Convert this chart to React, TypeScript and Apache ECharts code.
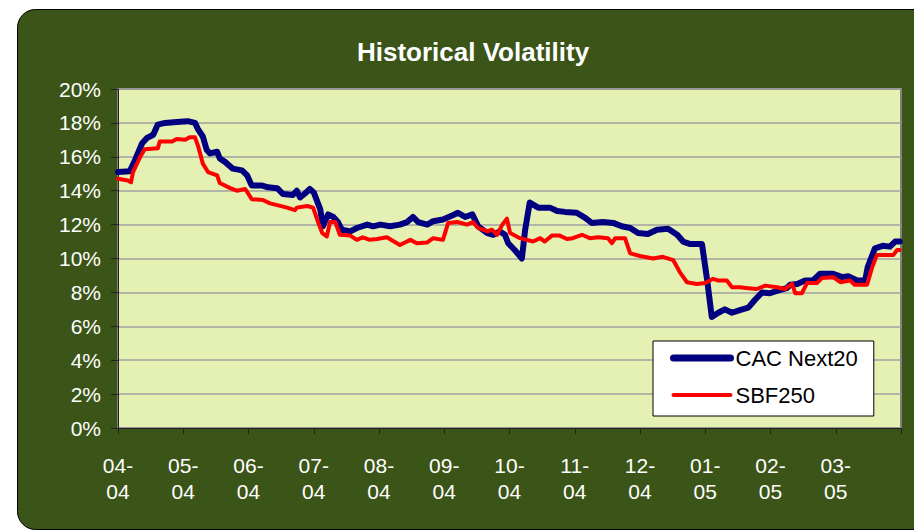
import React, { useEffect, useRef } from "react";
import * as echarts from "echarts";

// Month tick labels (position 0 = April 2004, 12 = April 2005)
const tickLabels = ["04-\n04", "05-\n04", "06-\n04", "07-\n04", "08-\n04", "09-\n04", "10-\n04", "11-\n04", "12-\n04", "01-\n05", "02-\n05", "03-\n05", ""];

// CAC Next20: position in months since April 2004, volatility in %
const cacMonths = [0, 0.18, 0.26, 0.37, 0.44, 0.54, 0.61, 0.72, 0.9, 1.07, 1.18, 1.23, 1.3, 1.36, 1.41, 1.52, 1.56, 1.64, 1.76, 1.9, 1.98, 2.05, 2.21, 2.3, 2.44, 2.53, 2.68, 2.74, 2.79, 2.87, 2.94, 3.0, 3.1, 3.14, 3.22, 3.3, 3.37, 3.43, 3.56, 3.66, 3.82, 3.91, 4.02, 4.17, 4.32, 4.43, 4.52, 4.6, 4.74, 4.83, 4.98, 5.13, 5.21, 5.32, 5.43, 5.52, 5.66, 5.75, 5.85, 5.93, 5.98, 6.08, 6.19, 6.24, 6.31, 6.44, 6.62, 6.73, 6.85, 7.03, 7.16, 7.26, 7.43, 7.59, 7.72, 7.85, 7.97, 8.12, 8.26, 8.43, 8.57, 8.66, 8.77, 8.95, 9.03, 9.1, 9.2, 9.3, 9.41, 9.53, 9.66, 9.76, 9.87, 9.99, 10.11, 10.25, 10.3, 10.41, 10.53, 10.65, 10.76, 10.96, 11.1, 11.19, 11.33, 11.45, 11.49, 11.6, 11.72, 11.83, 11.91, 11.98];
const cacValues = [15.1, 15.15, 15.8, 16.8, 17.1, 17.3, 17.9, 18.0, 18.05, 18.1, 18.0, 17.6, 17.2, 16.4, 16.2, 16.3, 15.9, 15.7, 15.3, 15.2, 14.9, 14.3, 14.3, 14.2, 14.15, 13.8, 13.75, 14.0, 13.6, 13.85, 14.1, 13.9, 12.9, 11.9, 12.6, 12.45, 12.15, 11.7, 11.6, 11.8, 12.0, 11.9, 12.0, 11.9, 12.0, 12.15, 12.45, 12.15, 12.0, 12.2, 12.3, 12.55, 12.7, 12.45, 12.6, 11.9, 11.5, 11.4, 11.6, 11.4, 10.9, 10.5, 10.0, 11.7, 13.3, 13.0, 13.0, 12.8, 12.75, 12.7, 12.4, 12.1, 12.15, 12.1, 11.9, 11.8, 11.5, 11.45, 11.7, 11.75, 11.4, 11.0, 10.85, 10.85, 8.7, 6.55, 6.8, 7.0, 6.8, 6.95, 7.1, 7.55, 8.0, 7.95, 8.1, 8.25, 8.45, 8.5, 8.7, 8.7, 9.1, 9.1, 8.9, 8.95, 8.7, 8.7, 9.5, 10.6, 10.75, 10.7, 11.0, 11.0];

// SBF250
const sbfMonths = [0, 0.15, 0.2, 0.23, 0.34, 0.41, 0.61, 0.64, 0.83, 0.9, 1.03, 1.1, 1.18, 1.23, 1.3, 1.38, 1.52, 1.56, 1.72, 1.82, 1.95, 2.05, 2.22, 2.33, 2.44, 2.59, 2.71, 2.74, 2.9, 2.99, 3.07, 3.13, 3.2, 3.25, 3.33, 3.4, 3.56, 3.66, 3.75, 3.86, 3.97, 4.12, 4.21, 4.32, 4.48, 4.58, 4.74, 4.83, 4.98, 5.06, 5.2, 5.35, 5.44, 5.52, 5.66, 5.73, 5.81, 5.89, 5.96, 6.01, 6.16, 6.36, 6.47, 6.54, 6.65, 6.77, 6.88, 6.97, 7.11, 7.23, 7.36, 7.51, 7.57, 7.62, 7.77, 7.85, 8.0, 8.2, 8.35, 8.51, 8.61, 8.72, 8.87, 9.0, 9.12, 9.2, 9.33, 9.41, 9.53, 9.66, 9.79, 9.92, 10.1, 10.22, 10.33, 10.38, 10.48, 10.56, 10.71, 10.79, 10.96, 11.07, 11.22, 11.29, 11.48, 11.56, 11.63, 11.79, 11.88, 11.94, 11.98];
const sbfValues = [14.7, 14.6, 14.5, 15.1, 16.0, 16.45, 16.5, 16.9, 16.9, 17.05, 17.0, 17.15, 17.15, 16.6, 15.6, 15.1, 14.9, 14.45, 14.15, 14.0, 14.1, 13.5, 13.45, 13.25, 13.15, 13.0, 12.85, 13.0, 13.1, 13.0, 12.1, 11.5, 11.3, 12.15, 12.15, 11.4, 11.35, 11.1, 11.25, 11.1, 11.15, 11.25, 11.05, 10.8, 11.1, 10.9, 10.95, 11.2, 11.1, 12.1, 12.15, 12.0, 12.15, 11.8, 11.6, 11.7, 11.4, 12.0, 12.35, 11.5, 11.2, 11.0, 11.2, 11.0, 11.35, 11.35, 11.15, 11.2, 11.4, 11.2, 11.25, 11.2, 10.9, 11.2, 11.2, 10.3, 10.15, 10.0, 10.1, 9.9, 9.2, 8.6, 8.5, 8.55, 8.8, 8.7, 8.7, 8.3, 8.3, 8.25, 8.2, 8.4, 8.3, 8.2, 8.5, 7.95, 7.95, 8.55, 8.55, 8.85, 8.9, 8.6, 8.7, 8.45, 8.45, 9.5, 10.2, 10.2, 10.2, 10.5, 10.5];

const seriesNames = ["CAC Next20", "SBF250"];
const FONT = "'Liberation Sans', Arial, sans-serif";

export default function App() {
  const ref = useRef<HTMLDivElement>(null);
  useEffect(() => {
    if (!ref.current) return;
    const chart = echarts.init(ref.current, null, { renderer: "svg" });
    const cac = cacMonths.map((m, i) => [m, cacValues[i]]);
    const sbf = sbfMonths.map((m, i) => [m, sbfValues[i]]);
    chart.setOption({
      animation: false,
      backgroundColor: "#ffffff",
      textStyle: { fontFamily: FONT },
      graphic: [
        {
          type: "rect",
          z: -10,
          silent: true,
          shape: { x: 17.5, y: 9.5, width: 960, height: 520, r: 18 },
          style: { fill: "#3B5417", stroke: "#000000", lineWidth: 1 },
        },
      ],
      title: {
        text: "Historical Volatility",
        left: 357,
        top: 39,
        padding: 0,
        textStyle: { color: "#ffffff", fontSize: 26, fontWeight: "bold", fontFamily: FONT },
      },
      grid: {
        left: 118,
        top: 89,
        width: 783,
        height: 339,
        show: true,
        backgroundColor: "#E5F0B3",
        borderColor: "#808080",
        borderWidth: 2,
        containLabel: false,
      },
      legend: {
        data: [
          { name: seriesNames[0], lineStyle: { width: 7, cap: "round" }, itemStyle: { opacity: 0 } },
          { name: seriesNames[1], lineStyle: { width: 4, cap: "round" }, itemStyle: { opacity: 0 } },
        ],
        orient: "vertical",
        left: 653,
        top: 341,
        padding: [4, 16, 8, 17],
        itemGap: 11,
        itemWidth: 57,
        itemHeight: 14,
        itemStyle: { opacity: 0 },
        backgroundColor: "#ffffff",
        borderColor: "#000000",
        borderWidth: 1,
        borderRadius: 0,
        textStyle: { color: "#000000", fontSize: 22, lineHeight: 26, fontFamily: FONT },
      },
      xAxis: {
        type: "value",
        min: 0,
        max: 12,
        interval: 1,
        axisLine: { show: true, lineStyle: { color: "#222222", width: 1 } },
        axisTick: { show: true, length: 6, lineStyle: { color: "#222222" } },
        splitLine: { show: false },
        axisLabel: {
          color: "#ffffff",
          fontSize: 21,
          lineHeight: 26,
          margin: 24,
          fontFamily: FONT,
          showMaxLabel: true,
          formatter: (v: number) => tickLabels[Math.round(v)] ?? "",
        },
      },
      yAxis: {
        type: "value",
        min: 0,
        max: 20,
        interval: 2,
        axisLine: { show: true, lineStyle: { color: "#222222", width: 1 } },
        axisTick: { show: true, length: 7, lineStyle: { color: "#222222" } },
        splitLine: { show: true, lineStyle: { color: "#A0A0A0", width: 1.5 } },
        axisLabel: {
          color: "#ffffff",
          fontSize: 21,
          margin: 17,
          fontFamily: FONT,
          formatter: (v: number) => `${v}%`,
        },
      },
      series: [
        {
          name: seriesNames[0],
          type: "line",
          data: cac,
          showSymbol: false,
          symbol: "none",
          color: "#000080",
          lineStyle: { color: "#000080", width: 6, cap: "round", join: "round" },
          z: 3,
        },
        {
          name: seriesNames[1],
          type: "line",
          data: sbf,
          showSymbol: false,
          symbol: "none",
          color: "#FF0000",
          lineStyle: { color: "#FF0000", width: 4, cap: "round", join: "round" },
          z: 4,
        },
      ],
    });
    return () => chart.dispose();
  }, []);
  return (
    <div
      ref={ref}
      style={{ position: "fixed", left: 0, top: 0, width: 914, height: 531 }}
    />
  );
}
